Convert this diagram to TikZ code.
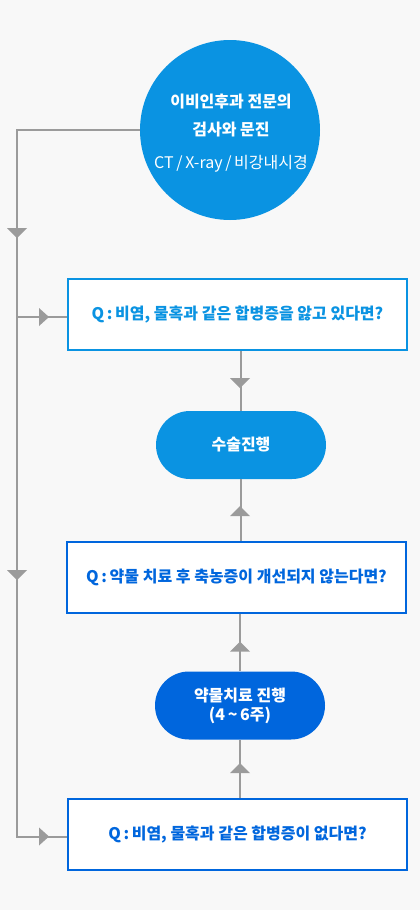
\documentclass[tikz,border=0pt]{standalone}
\usepackage{fontspec}
\setmainfont{Noto Sans CJK KR}
\definecolor{bgc}{HTML}{F8F8F8}
\definecolor{lblue}{HTML}{0A93E2}
\definecolor{dblue}{HTML}{0066DD}
\definecolor{lgray}{HTML}{9B9B9B}
\tikzset{
  conn/.style={draw=lgray, line width=2pt},
  qbox/.style={draw=#1, fill=white, line width=2pt, minimum width=339pt, minimum height=71pt, inner sep=0pt, text=#1, font=\fontsize{16}{19}\selectfont\bfseries},
  pill/.style={fill=#1, rounded corners=34pt, minimum width=170pt, minimum height=68pt, inner sep=0pt, text=white, align=center, font=\fontsize{16}{19}\selectfont\bfseries},
  tri/.style={fill=lgray, draw=none}
}
\newcommand\tridown[1]{\fill[tri] (#1) ++(-10,-5) -- ++(20,0) -- ++(-10,10) -- cycle;}
\newcommand\triup[1]{\fill[tri] (#1) ++(-10,5) -- ++(20,0) -- ++(-10,-10) -- cycle;}
\newcommand\triright[1]{\fill[tri] (#1) ++(-5,-9) -- ++(0,18) -- ++(10,-9) -- cycle;}
\begin{document}
\begin{tikzpicture}[x=1pt,y=-1pt]
\fill[bgc] (0,0) rectangle (420,910);
\useasboundingbox (0,0) rectangle (420,910);
% nodes
\node[circle, fill=lblue, minimum size=180pt, inner sep=0pt] (circ) at (230,130) {};
\node[text=white, align=center, font=\fontsize{16}{28}\selectfont\bfseries] (circtxt) at (231,133)
  {이비인후과 전문의\\검사와 문진\\[5pt]{\mdseries CT\,/\,X-ray\,/\,비강내시경}};
\node[qbox=lblue] (box1) at (237.5,314.5) {Q\,:\,비염, 물혹과 같은 합병증을 앓고 있다면?};
\node[pill=lblue] (pill1) at (241,445) {수술진행};
\node[qbox=dblue] (box2) at (236.5,577) {Q\,:\,약물 치료 후 축농증이 개선되지 않는다면?};
\node[pill=dblue] (pill2) at (240,705.5) {약물치료 진행\\(4\,\textasciitilde\,6주)};
\node[qbox=dblue] (box3) at (237.5,834.5) {Q\,:\,비염, 물혹과 같은 합병증이 없다면?};
% coordinates
\coordinate (lt) at (17,130);
\coordinate (lb) at (17,837);
\coordinate (br1) at (17,317);
% connectors
\draw[conn] (circ.west) -- (lt) -- (lb) -- (lb -| box3.west);
\draw[conn] (br1) -- (br1 -| box1.west);
\draw[conn] (box1.south -| pill1) -- (pill1.north);
\draw[conn] (pill1.south) -- (box2.north -| pill1);
\draw[conn] (box2.south -| pill2) -- (pill2.north);
\draw[conn] (pill2.south) -- (box3.north -| pill2);
% arrowheads
\tridown{17,233}
\tridown{17,575}
\tridown{240,383}
\triup{240,511}
\triup{240,646.5}
\triup{240,768}
\triright{44,317}
\triright{44,836.5}
\end{tikzpicture}
\end{document}
